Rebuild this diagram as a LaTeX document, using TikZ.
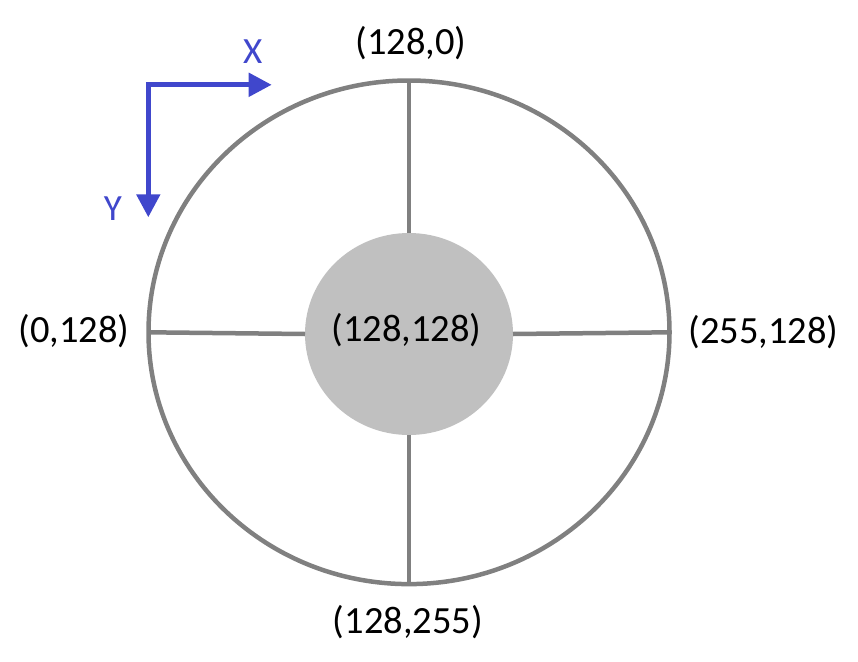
\documentclass[tikz,border=0pt]{standalone}
\usepackage{fontspec}
\setmainfont{Carlito}
\usetikzlibrary{shapes.geometric,arrows.meta}
\definecolor{axisblue}{RGB}{64,71,204}
\definecolor{ringgray}{RGB}{128,128,128}
\definecolor{hubgray}{RGB}{192,192,192}
\begin{document}
\begin{tikzpicture}[x=1pt,y=-1pt,
  ring/.style={draw=ringgray,line width=4.5pt},
  lbl/.style={anchor=base,inner sep=0pt,font=\fontsize{38.5}{40}\selectfont},
  axlbl/.style={anchor=base,inner sep=0pt,text=axisblue,font=\fontsize{37}{40}\selectfont},
  axarrow/.style={draw=axisblue,line width=5pt,-{Triangle[length=23pt,width=23pt]}}]
\useasboundingbox (0,0) rectangle (858,661);
\node[ring,ellipse,minimum width=521pt,minimum height=503.6pt,inner sep=0pt,outer sep=0pt] (outer) at (409,332.3) {};
\node[ellipse,fill=hubgray,minimum width=208pt,minimum height=202pt,inner sep=0pt,outer sep=0pt] (inner) at (409,334) {};
\draw[ring] (outer.north) -- (inner.north);
\draw[ring] (outer.south) -- (inner.south);
\draw[ring] (outer.west) -- (inner.west);
\draw[ring] (outer.east) -- (inner.east);
\node[lbl] (ltop) at (411,54) {(128,0)};
\node[lbl] (lleft) at (74,342.7) {(0,128)};
\node[lbl] (lright) at (763.5,343.3) {(255,128)};
\node[lbl] (lbottom) at (408,633) {(128,255)};
\node[lbl] (lcenter) at (406.5,341.7) {(128,128)};
\coordinate (o) at (148.3,84.8);
\coordinate (xend) at (271.7,84.8);
\coordinate (yend) at (148.3,217.3);
\draw[axarrow] ([xshift=-2.5pt]o) -- (xend);
\draw[axarrow] ([yshift=-2.5pt]o) -- (yend);
\node[axlbl] (xl) at (252.8,63.3) {X};
\node[axlbl] (yl) at (113,220) {Y};
\end{tikzpicture}
\end{document}
